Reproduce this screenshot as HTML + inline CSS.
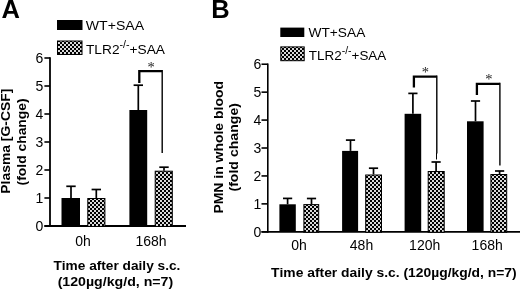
<!DOCTYPE html>
<html><head><meta charset="utf-8"><title>Figure</title>
<style>
html,body{margin:0;padding:0;background:#fff;}
body{width:520px;height:291px;overflow:hidden;}
svg{display:block;filter:blur(0.35px);}
text{font-family:"Liberation Sans",sans-serif;fill:#000;font-kerning:none;}
.b{font-weight:bold;}
</style></head><body>
<svg width="520" height="291" viewBox="0 0 520 291">
<defs>
<pattern id="hx" x="0" y="0" width="4" height="4" patternUnits="userSpaceOnUse">
<rect width="4" height="4" fill="#000"/>
<rect x="0.08" y="0.08" width="1.84" height="1.84" fill="#fff"/>
<rect x="2.08" y="2.08" width="1.84" height="1.84" fill="#fff"/>
</pattern>
</defs>
<rect width="520" height="291" fill="#fff"/>

<text class="b" x="1.5" y="18.3" font-size="25.5">A</text>
<text class="b" x="211.3" y="18.3" font-size="25.5">B</text>
<line x1="50" y1="57.2" x2="50" y2="226.9" stroke="#000" stroke-width="1.8"/>
<line x1="44.4" y1="226" x2="186" y2="226" stroke="#000" stroke-width="1.8"/>
<line x1="44.4" y1="226" x2="50" y2="226" stroke="#000" stroke-width="1.6"/>
<text x="43.2" y="231" font-size="14" text-anchor="end">0</text>
<line x1="44.4" y1="198" x2="50" y2="198" stroke="#000" stroke-width="1.6"/>
<text x="43.2" y="203" font-size="14" text-anchor="end">1</text>
<line x1="44.4" y1="170" x2="50" y2="170" stroke="#000" stroke-width="1.6"/>
<text x="43.2" y="175" font-size="14" text-anchor="end">2</text>
<line x1="44.4" y1="142" x2="50" y2="142" stroke="#000" stroke-width="1.6"/>
<text x="43.2" y="147" font-size="14" text-anchor="end">3</text>
<line x1="44.4" y1="114" x2="50" y2="114" stroke="#000" stroke-width="1.6"/>
<text x="43.2" y="119" font-size="14" text-anchor="end">4</text>
<line x1="44.4" y1="86" x2="50" y2="86" stroke="#000" stroke-width="1.6"/>
<text x="43.2" y="91" font-size="14" text-anchor="end">5</text>
<line x1="44.4" y1="58" x2="50" y2="58" stroke="#000" stroke-width="1.6"/>
<text x="43.2" y="63" font-size="14" text-anchor="end">6</text>
<rect x="61.50" y="198.00" width="18.50" height="28.00" fill="#000"/>
<rect x="87.80" y="198.50" width="17.10" height="28.00" fill="url(#hx)" stroke="#000" stroke-width="1"/>
<rect x="129.40" y="110.00" width="17.80" height="116.00" fill="#000"/>
<rect x="155.20" y="171.20" width="17.10" height="55.30" fill="url(#hx)" stroke="#000" stroke-width="1"/>
<line x1="71.00" y1="186.30" x2="71.00" y2="198.00" stroke="#000" stroke-width="1.7"/><line x1="66.30" y1="186.30" x2="75.70" y2="186.30" stroke="#000" stroke-width="1.7"/>
<line x1="96.30" y1="189.50" x2="96.30" y2="198.00" stroke="#000" stroke-width="1.7"/><line x1="91.60" y1="189.50" x2="101.00" y2="189.50" stroke="#000" stroke-width="1.7"/>
<line x1="138.30" y1="85.20" x2="138.30" y2="110.00" stroke="#000" stroke-width="1.7"/><line x1="133.60" y1="85.20" x2="143.00" y2="85.20" stroke="#000" stroke-width="1.7"/>
<line x1="164.00" y1="167.20" x2="164.00" y2="170.70" stroke="#000" stroke-width="1.7"/><line x1="159.30" y1="167.20" x2="168.70" y2="167.20" stroke="#000" stroke-width="1.7"/>
<path d="M139.30 83.00V71.20H162.20" fill="none" stroke="#000" stroke-width="2.3"/><line x1="162.20" y1="70.05" x2="162.20" y2="153.00" stroke="#000" stroke-width="1.4"/>
<text x="151.00" y="72.20" style="font-family:'Liberation Serif',serif;font-size:14.5px;fill:#222" text-anchor="middle">*</text>
<text x="83" y="245.7" font-size="14" text-anchor="middle">0h</text>
<text x="151" y="245.7" font-size="14" text-anchor="middle">168h</text>
<text class="b" x="116.9" y="270.4" font-size="13.2" textLength="127" lengthAdjust="spacingAndGlyphs" text-anchor="middle">Time after daily s.c.</text>
<text class="b" x="115.4" y="286.4" font-size="13.2" textLength="115.5" lengthAdjust="spacingAndGlyphs" text-anchor="middle">(120µg/kg/d, n=7)</text>
<text class="b" transform="translate(10.3,141.2) rotate(-90)" font-size="13" textLength="105" lengthAdjust="spacingAndGlyphs" text-anchor="middle">Plasma [G-CSF]</text>
<text class="b" transform="translate(26.4,141.9) rotate(-90)" font-size="13" textLength="87" lengthAdjust="spacingAndGlyphs" text-anchor="middle">(fold change)</text>
<rect x="57" y="20" width="25.5" height="10" fill="#000"/>
<rect x="57.5" y="41" width="24.5" height="13.5" fill="url(#hx)" stroke="#000" stroke-width="1"/>
<text x="85.8" y="29.9" font-size="13.7" textLength="58.3" lengthAdjust="spacingAndGlyphs">WT+SAA</text>
<text x="86" y="53.8" font-size="13.5" textLength="79" lengthAdjust="spacingAndGlyphs">TLR2<tspan font-size="10.5" dy="-6.1">-/-</tspan><tspan dy="6.1">+SAA</tspan></text>
<line x1="267.8" y1="63.42" x2="267.8" y2="232.70000000000002" stroke="#000" stroke-width="1.6"/>
<line x1="261.5" y1="231.8" x2="520" y2="231.8" stroke="#000" stroke-width="1.8"/>
<line x1="261.5" y1="231.80" x2="267.8" y2="231.80" stroke="#000" stroke-width="1.6"/>
<text x="261.4" y="236.80" font-size="14" text-anchor="end">0</text>
<line x1="261.5" y1="203.87" x2="267.8" y2="203.87" stroke="#000" stroke-width="1.6"/>
<text x="261.4" y="208.87" font-size="14" text-anchor="end">1</text>
<line x1="261.5" y1="175.94" x2="267.8" y2="175.94" stroke="#000" stroke-width="1.6"/>
<text x="261.4" y="180.94" font-size="14" text-anchor="end">2</text>
<line x1="261.5" y1="148.01" x2="267.8" y2="148.01" stroke="#000" stroke-width="1.6"/>
<text x="261.4" y="153.01" font-size="14" text-anchor="end">3</text>
<line x1="261.5" y1="120.08" x2="267.8" y2="120.08" stroke="#000" stroke-width="1.6"/>
<text x="261.4" y="125.08" font-size="14" text-anchor="end">4</text>
<line x1="261.5" y1="92.15" x2="267.8" y2="92.15" stroke="#000" stroke-width="1.6"/>
<text x="261.4" y="97.15" font-size="14" text-anchor="end">5</text>
<line x1="261.5" y1="64.22" x2="267.8" y2="64.22" stroke="#000" stroke-width="1.6"/>
<text x="261.4" y="69.22" font-size="14" text-anchor="end">6</text>
<rect x="279.40" y="204.30" width="16.40" height="27.50" fill="#000"/>
<line x1="287.60" y1="198.40" x2="287.60" y2="204.30" stroke="#000" stroke-width="1.7"/><line x1="283.00" y1="198.40" x2="292.20" y2="198.40" stroke="#000" stroke-width="1.7"/>
<rect x="303.90" y="204.60" width="14.80" height="27.70" fill="url(#hx)" stroke="#000" stroke-width="1"/>
<line x1="311.50" y1="198.50" x2="311.50" y2="204.10" stroke="#000" stroke-width="1.7"/><line x1="306.90" y1="198.50" x2="316.10" y2="198.50" stroke="#000" stroke-width="1.7"/>
<rect x="342.10" y="150.90" width="16.00" height="80.90" fill="#000"/>
<line x1="350.50" y1="140.10" x2="350.50" y2="150.90" stroke="#000" stroke-width="1.7"/><line x1="345.90" y1="140.10" x2="355.10" y2="140.10" stroke="#000" stroke-width="1.7"/>
<rect x="365.70" y="175.00" width="15.80" height="57.30" fill="url(#hx)" stroke="#000" stroke-width="1"/>
<line x1="373.50" y1="168.20" x2="373.50" y2="174.50" stroke="#000" stroke-width="1.7"/><line x1="368.90" y1="168.20" x2="378.10" y2="168.20" stroke="#000" stroke-width="1.7"/>
<rect x="404.60" y="113.80" width="16.60" height="118.00" fill="#000"/>
<line x1="412.90" y1="93.40" x2="412.90" y2="113.80" stroke="#000" stroke-width="1.7"/><line x1="408.30" y1="93.40" x2="417.50" y2="93.40" stroke="#000" stroke-width="1.7"/>
<rect x="428.20" y="171.50" width="16.00" height="60.80" fill="url(#hx)" stroke="#000" stroke-width="1"/>
<line x1="436.10" y1="162.00" x2="436.10" y2="171.00" stroke="#000" stroke-width="1.7"/><line x1="431.50" y1="162.00" x2="440.70" y2="162.00" stroke="#000" stroke-width="1.7"/>
<rect x="467.00" y="121.30" width="16.60" height="110.50" fill="#000"/>
<line x1="475.50" y1="101.00" x2="475.50" y2="121.30" stroke="#000" stroke-width="1.7"/><line x1="470.90" y1="101.00" x2="480.10" y2="101.00" stroke="#000" stroke-width="1.7"/>
<rect x="490.90" y="174.50" width="15.80" height="57.80" fill="url(#hx)" stroke="#000" stroke-width="1"/>
<line x1="499.60" y1="171.00" x2="499.60" y2="174.00" stroke="#000" stroke-width="1.7"/><line x1="495.00" y1="171.00" x2="504.20" y2="171.00" stroke="#000" stroke-width="1.7"/>
<path d="M413.90 87.60V76.60H436.80" fill="none" stroke="#000" stroke-width="2.3"/><line x1="436.80" y1="75.45" x2="436.80" y2="153.50" stroke="#000" stroke-width="1.4"/>
<line x1="436.5" y1="153" x2="436.5" y2="159.5" stroke="#000" stroke-width="1"/>
<path d="M476.90 95.00V83.80H499.90" fill="none" stroke="#000" stroke-width="2.3"/><line x1="499.90" y1="82.65" x2="499.90" y2="165.50" stroke="#000" stroke-width="1.4"/>
<text x="425.40" y="77.20" style="font-family:'Liberation Serif',serif;font-size:14.5px;fill:#222" text-anchor="middle">*</text>
<text x="488.80" y="84.40" style="font-family:'Liberation Serif',serif;font-size:14.5px;fill:#222" text-anchor="middle">*</text>
<text x="299" y="250" font-size="14" text-anchor="middle">0h</text>
<text x="361.5" y="250" font-size="14" text-anchor="middle">48h</text>
<text x="424.7" y="250" font-size="14" text-anchor="middle">120h</text>
<text x="487.2" y="250" font-size="14" text-anchor="middle">168h</text>
<text class="b" x="271" y="277.4" font-size="13.2" textLength="245.6" lengthAdjust="spacingAndGlyphs">Time after daily s.c. (120µg/kg/d, n=7)</text>
<text class="b" transform="translate(222.9,147.3) rotate(-90)" font-size="13" textLength="132.5" lengthAdjust="spacingAndGlyphs" text-anchor="middle">PMN in whole blood</text>
<text class="b" transform="translate(238.2,147.3) rotate(-90)" font-size="13" textLength="88.5" lengthAdjust="spacingAndGlyphs" text-anchor="middle">(fold change)</text>
<rect x="280.3" y="27.6" width="24" height="9.4" fill="#000"/>
<rect x="280.8" y="46.9" width="23.4" height="13.8" fill="url(#hx)" stroke="#000" stroke-width="1"/>
<text x="308.5" y="36.9" font-size="13.7" textLength="56.8" lengthAdjust="spacingAndGlyphs">WT+SAA</text>
<text x="308.8" y="60.3" font-size="13.5" textLength="77.5" lengthAdjust="spacingAndGlyphs">TLR2<tspan font-size="10.5" dy="-6.1">-/-</tspan><tspan dy="6.1">+SAA</tspan></text>
</svg></body></html>
